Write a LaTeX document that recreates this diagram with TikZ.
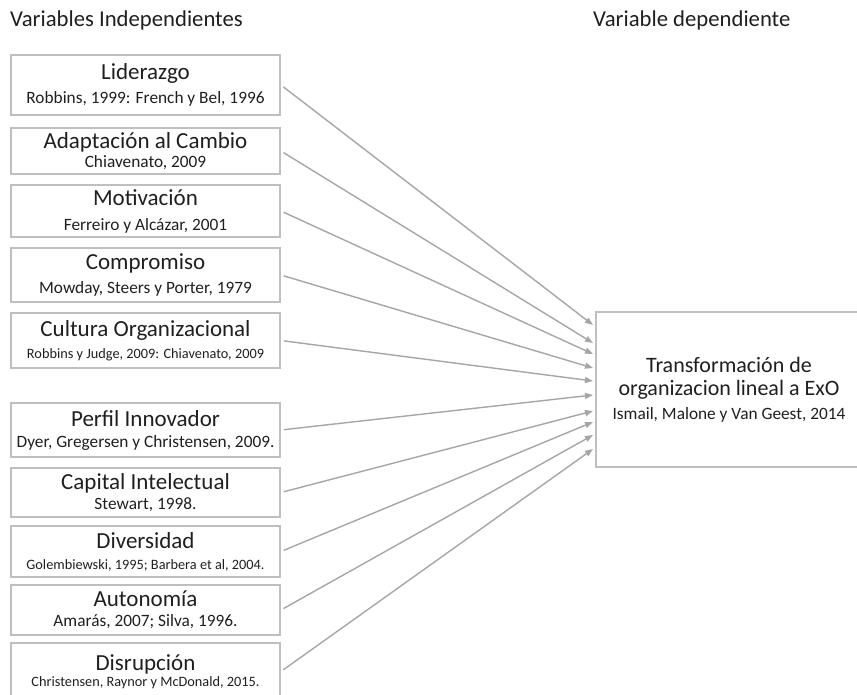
\documentclass[tikz,border=0pt]{standalone}
\usepackage{fontspec}
\setmainfont{Carlito}
\usetikzlibrary{arrows.meta}
\definecolor{bordegris}{HTML}{BFBFBF}
\definecolor{flechagris}{HTML}{A6A6A6}
\definecolor{textogris}{HTML}{1F1F1F}
\newcommand{\titvar}{\fontsize{23}{21}\selectfont}
\newcommand{\autvar}{\fontsize{17.3}{18}\selectfont}
\newcommand{\autmin}{\fontsize{14.3}{16}\selectfont}

\begin{document}
\begin{tikzpicture}[x=1pt,y=-1pt,
    caja/.style={draw=bordegris,line width=1.8pt,minimum width=269pt,inner sep=0pt,
      align=center,text=textogris,font=\titvar},
    flecha/.style={draw=flechagris,line width=1.4pt,shorten <=3pt,
      -{Triangle[length=8pt,width=6pt]}},
    titulo/.style={anchor=base west,inner sep=0pt,text=textogris,font=\fontsize{22.7}{24}\selectfont}]
  \useasboundingbox (0,0) rectangle (857,694);
  % titulos
  \node[titulo] (indep) at (10,26) {Variables Independientes};
  \node[titulo] (dep) at (593,26) {Variable dependiente};
  % variables independientes
  \node[caja,minimum height=60pt] (lid) at (145.5,85) {Liderazgo\\[3pt]{\autvar Robbins, 1999: French y Bel, 1996}};
  \node[caja,minimum height=46pt] (ada) at (145.5,151) {Adaptación al Cambio\\[-2pt]{\autvar Chiavenato, 2009}};
  \node[caja,minimum height=52pt] (mot) at (145.5,211) {Motivación\\[4pt]{\autvar Ferreiro y Alcázar, 2001}};
  \node[caja,minimum height=54pt] (com) at (145.5,275) {Compromiso\\[3pt]{\autvar Mowday, Steers y Porter, 1979}};
  \node[caja,minimum height=55pt] (cul) at (145.5,340.5) {Cultura Organizacional\\[1pt]{\autmin Robbins y Judge, 2009: Chiavenato, 2009}};
  \node[caja,minimum height=54pt] (per) at (145.5,430) {Perfil Innovador\\[0pt]{\autvar Dyer, Gregersen y Christensen, 2009.}};
  \node[caja,minimum height=49pt] (cap) at (145.5,492.5) {Capital Intelectual\\[-1pt]{\autvar Stewart, 1998.}};
  \node[caja,minimum height=51pt] (div) at (145.5,551.5) {Diversidad\\{\autmin Golembiewski, 1995; Barbera et al, 2004.}};
  \node[caja,minimum height=50pt] (aut) at (145.5,610) {Autonomía\\[-1pt]{\autvar Amarás, 2007; Silva, 1996.}};
  \node[caja,minimum height=57pt] (dis) at (145.5,671.5) {Disrupción\\[-5pt]{\fontsize{14.3}{16}\selectfont Christensen, Raynor y McDonald, 2015.}};
  % variable dependiente
  \node[caja,minimum width=266pt,minimum height=155pt,font=\fontsize{22}{23}\selectfont] (tra) at (729,389.5)
    {Transformación de\\organizacion lineal a ExO\\[1pt]{\autvar Ismail, Malone y Van Geest, 2014}};
  % puntas de flecha
  \coordinate (f1) at (593,325);
  \coordinate (f2) at (593,343);
  \coordinate (f3) at (593,354);
  \coordinate (f4) at (593,368);
  \coordinate (f5) at (593,381);
  \coordinate (f6) at (593,395);
  \coordinate (f7) at (593,411);
  \coordinate (f8) at (593,422);
  \coordinate (f9) at (593,435);
  \coordinate (f10) at (593,449);
  \draw[flecha] (lid.east) -- (f1);
  \draw[flecha] (ada.east) -- (f2);
  \draw[flecha] (mot.east) -- (f3);
  \draw[flecha] (com.east) -- (f4);
  \draw[flecha] (cul.east) -- (f5);
  \draw[flecha] (per.east) -- (f6);
  \draw[flecha] (cap.east) -- (f7);
  \draw[flecha] (div.east) -- (f8);
  \draw[flecha] (aut.east) -- (f9);
  \draw[flecha] (dis.east) -- (f10);
\end{tikzpicture}
\end{document}
